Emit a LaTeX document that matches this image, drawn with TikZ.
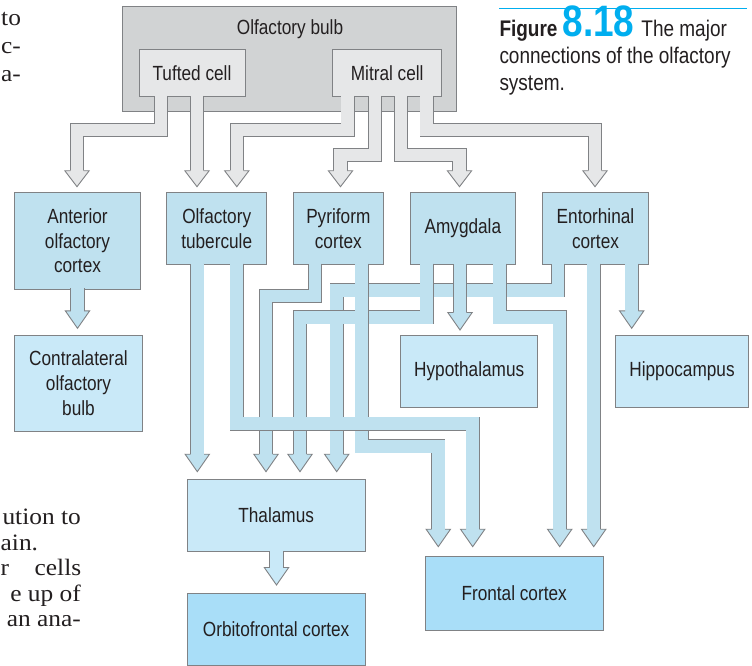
\documentclass[tikz,border=0pt]{standalone}
\usepackage{fontspec}
\usetikzlibrary{calc}
\setmainfont{Liberation Sans}
\newfontfamily\lblfamily{Liberation Sans}[FakeStretch=0.84]
\newfontfamily\numfamily{Liberation Sans}[FakeStretch=0.84]
\newfontfamily\bookfamily{Liberation Serif}[FakeStretch=1.08]
\newcommand\lblfont{\lblfamily\fontsize{20.5}{24.8}\selectfont}
\newcommand\capfont{\lblfamily\fontsize{22.6}{27}\selectfont}
\newcommand\numfont{\numfamily\bfseries\fontsize{44}{44}\selectfont}
\newcommand\bookfont{\bookfamily\fontsize{23.5}{27}\selectfont}

\definecolor{rimc}{HTML}{808285}
\definecolor{bulbgray}{HTML}{D1D3D4}
\definecolor{cellgray}{HTML}{E6E7E8}
\definecolor{blueA}{HTML}{BFE1EF}
\definecolor{blueB}{HTML}{C9E9F8}
\definecolor{blueC}{HTML}{A9DEF8}
\definecolor{figcyan}{HTML}{00AEEF}
\definecolor{inkc}{HTML}{231F20}

\tikzset{
  box/.style={draw=rimc, line width=0.9pt, inner sep=0pt, outer sep=0pt,
    anchor=north west, align=center, text=inkc, font=\lblfont},
  band/.style={draw=rimc, line width=0.9pt, double=#1, double distance=12.5pt,
    line join=miter, line cap=butt},
  rim/.style={draw=rimc, line width=0.9pt, line join=miter},
  booktext/.style={inner sep=0pt, anchor=base east, text=inkc, font=\bookfont},
}

% arrow head: fill colour, tip coordinate, head length
\newcommand\fathead[3]{%
  \fill[#1] ($(#2)+(-6.2,-#3-0.7)$) -- ($(#2)+(-6.2,-#3)$) -- ($(#2)+(-12.2,-#3)$)
    -- (#2) -- ($(#2)+(12.2,-#3)$) -- ($(#2)+(6.2,-#3)$) -- ($(#2)+(6.2,-#3-0.7)$) -- cycle;
  \draw[rim] ($(#2)+(-6.7,-#3)$) -- ($(#2)+(-12.2,-#3)$) -- (#2)
    -- ($(#2)+(12.2,-#3)$) -- ($(#2)+(6.7,-#3)$);
}

\begin{document}
\begin{tikzpicture}[x=1pt,y=-1pt]
\fill[white] (0,0) rectangle (752,666);
\useasboundingbox (0,0) rectangle (752,666);

% running text of the page beside the figure
\node[booktext, anchor=base west] (p1) at (1,26) {to};
\node[booktext, anchor=base west] (p2) at (1,53.8) {c-};
\node[booktext, anchor=base west] (p3) at (1,81.6) {a-};
\node[booktext] (p4) at (81,524.5) {ution to};
\node[booktext, anchor=base west] (p5) at (0.5,550) {ain.};
\node[booktext, anchor=base west] (p6) at (0.5,575.5) {\makebox[80.5pt][l]{r\hfill cells}};
\node[booktext] (p7) at (81,601) {e up of};
\node[booktext] (p8) at (81,626.5) {an ana-};

% caption
\draw[figcyan, line width=1.4pt] (499.3,8.7) -- (746.7,8.7);
\node[inner sep=0pt, anchor=base west, text=inkc, font=\capfont] (cap1) at (499.3,36.7)
  {{\bfseries Figure}\hspace{5pt}{\numfont\color{figcyan}8.18}\hspace{7pt}The major};
\node[inner sep=0pt, anchor=base west, text=inkc, font=\capfont] (cap2) at (499.3,63.8)
  {connections of the olfactory};
\node[inner sep=0pt, anchor=base west, text=inkc, font=\capfont] (cap3) at (499.3,90.6)
  {system.};

% olfactory bulb
\node[box, fill=bulbgray, minimum width=334pt, minimum height=105pt] (bulb) at (122.7,6.7) {};
\node[inner sep=0pt, anchor=base, text=inkc, font=\lblfont] (bulbtitle) at (290,34.3) {Olfactory bulb};
\node[box, fill=cellgray, minimum width=106pt, minimum height=47.4pt] (tuft) at (139,49.3) {Tufted cell};
\node[box, fill=cellgray, minimum width=109pt, minimum height=47.4pt] (mitral) at (332.7,49.3) {Mitral cell};

% first targets
\node[box, fill=blueA, minimum width=126.4pt, minimum height=96.3pt] (ant) at (14.3,192.7) {Anterior\\olfactory\\cortex};
\node[box, fill=blueA, minimum width=100pt, minimum height=71.6pt] (tub) at (166.7,192.7) {Olfactory\\tubercule};
\node[box, fill=blueA, minimum width=90pt, minimum height=71.6pt] (pyr) at (293.3,192.7) {Pyriform\\cortex};
\node[box, fill=blueA, minimum width=105.7pt, minimum height=71.6pt] (amy) at (410,192.7) {Amygdala};
\node[box, fill=blueA, minimum width=105.6pt, minimum height=71.6pt] (ent) at (542.7,192.7) {Entorhinal\\cortex};

% further targets
\node[box, fill=blueB, minimum width=128.4pt, minimum height=96.7pt] (contra) at (14.3,335) {Contralateral\\olfactory\\bulb};
\node[box, fill=blueB, minimum width=137pt, minimum height=72.7pt] (hypo) at (400.7,335) {Hypothalamus};
\node[box, fill=blueB, minimum width=132.6pt, minimum height=72.7pt] (hippo) at (615.7,335) {Hippocampus};
\node[box, fill=blueB, minimum width=177.7pt, minimum height=72.4pt] (thal) at (187.3,479.3) {Thalamus};
\node[box, fill=blueC, minimum width=177.7pt, minimum height=71.7pt] (orb) at (187.3,593.3) {Orbitofrontal cortex};
\node[box, fill=blueC, minimum width=178.3pt, minimum height=73.3pt] (front) at (425,556.7) {Frontal cortex};

% arrow tips
\coordinate (h-t1) at (77,186.7);
\coordinate (h-t2) at (197,186.7);
\coordinate (h-ma) at (236.8,186.7);
\coordinate (h-mb) at (340.5,186.7);
\coordinate (h-mc) at (459.5,186.7);
\coordinate (h-md) at (595,186.7);
\coordinate (h-ent-thal) at (336.7,471.7);
\coordinate (h-amy-thal) at (300,471.7);
\coordinate (h-pyr-thal) at (266,471.7);
\coordinate (h-tub-thal) at (197.3,471.7);
\coordinate (h-amy-hypo) at (460,330);
\coordinate (h-amy-front) at (559.7,546.7);
\coordinate (h-pyr-front) at (438.3,546.7);
\coordinate (h-tub-front) at (472.7,546.7);
\coordinate (h-ent-front) at (593.7,546.7);
\coordinate (h-ent-hippo) at (631.7,328.3);
\coordinate (h-ant-contra) at (77.5,328.3);
\coordinate (h-thal-orb) at (276.5,585);

% projections out of the bulb
\draw[band=cellgray] ($(tuft.south west)+(22,-0.8)$) |- (77,130) -- ($(h-t1)+(0,-16)$);
\fathead{cellgray}{h-t1}{16}
\draw[band=cellgray] ($(tuft.south west)+(58,-0.8)$) -- ($(h-t2)+(0,-16)$);
\fathead{cellgray}{h-t2}{16}
\draw[band=cellgray] ($(mitral.south west)+(15,-0.8)$) |- (236.8,130) -- ($(h-ma)+(0,-16)$);
\fathead{cellgray}{h-ma}{16}
\draw[band=cellgray] ($(mitral.south west)+(42.3,-0.8)$) |- (340.5,155) -- ($(h-mb)+(0,-16)$);
\fathead{cellgray}{h-mb}{16}
\draw[band=cellgray] ($(mitral.south west)+(68.3,-0.8)$) |- (459.5,155) -- ($(h-mc)+(0,-16)$);
\fathead{cellgray}{h-mc}{16}
\draw[band=cellgray] ($(mitral.south west)+(94,-0.8)$) |- (595,130) -- ($(h-md)+(0,-16)$);
\fathead{cellgray}{h-md}{16}

% secondary projections
\draw[band=blueA] ($(ent.south west)+(15.3,-0.8)$) |- (336.7,290.3) -- ($(h-ent-thal)+(0,-17.5)$);
\fathead{blueA}{h-ent-thal}{17.5}
\draw[band=blueA] ($(amy.south west)+(16.7,-0.8)$) |- (300,317.3) -- ($(h-amy-thal)+(0,-17.5)$);
\fathead{blueA}{h-amy-thal}{17.5}
\draw[band=blueA] ($(amy.south west)+(50,-0.8)$) -- ($(h-amy-hypo)+(0,-17.5)$);
\fathead{blueA}{h-amy-hypo}{17.5}
\draw[band=blueA] ($(amy.south west)+(89.7,-0.8)$) |- (559.7,317.3) -- ($(h-amy-front)+(0,-17.5)$);
\fathead{blueA}{h-amy-front}{17.5}
\draw[band=blueA] ($(pyr.south west)+(21.7,-0.8)$) |- (266,295.8) -- ($(h-pyr-thal)+(0,-17.5)$);
\fathead{blueA}{h-pyr-thal}{17.5}
\draw[band=blueA] ($(pyr.south west)+(68.4,-0.8)$) |- (438.3,446.3) -- ($(h-pyr-front)+(0,-17.5)$);
\fathead{blueA}{h-pyr-front}{17.5}
\draw[band=blueA] ($(ent.south west)+(51,-0.8)$) -- ($(h-ent-front)+(0,-17.5)$);
\fathead{blueA}{h-ent-front}{17.5}
\draw[band=blueA] ($(ent.south west)+(89,-0.8)$) -- ($(h-ent-hippo)+(0,-17.5)$);
\fathead{blueA}{h-ent-hippo}{17.5}
\draw[band=blueA] ($(tub.south west)+(30.6,-0.8)$) -- ($(h-tub-thal)+(0,-17.5)$);
\fathead{blueA}{h-tub-thal}{17.5}
\draw[band=blueA] ($(tub.south west)+(70,-0.8)$) |- (472.7,423.7) -- ($(h-tub-front)+(0,-17.5)$);
\fathead{blueA}{h-tub-front}{17.5}
\draw[band=blueA] ($(ant.south west)+(63.2,-0.8)$) -- ($(h-ant-contra)+(0,-17.5)$);
\fathead{blueA}{h-ant-contra}{17.5}
\draw[band=blueB] ($(thal.south west)+(89.2,-0.8)$) -- ($(h-thal-orb)+(0,-17.5)$);
\fathead{blueB}{h-thal-orb}{17.5}
\end{tikzpicture}
\end{document}
